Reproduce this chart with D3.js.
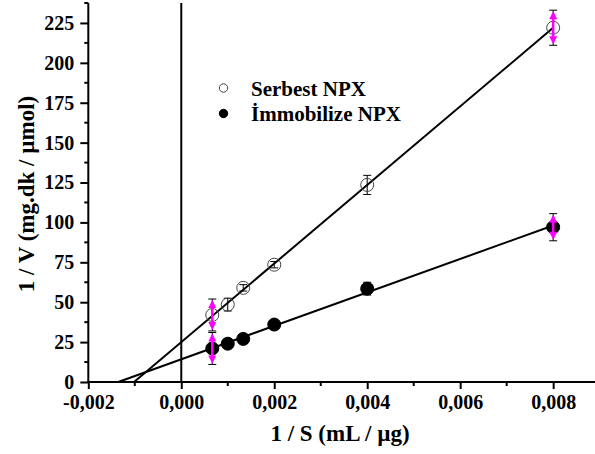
<!DOCTYPE html>
<html>
<head>
<meta charset="utf-8">
<script src="https://cdn.jsdelivr.net/npm/d3@7"></script>
<style>
  html, body { margin: 0; padding: 0; background: #fff; }
  svg { display: block; }
  text { font-family: "Liberation Serif", "Times New Roman", serif; font-weight: bold; fill: #000; }
</style>
</head>
<body>
<svg id="chart" width="595" height="454"></svg>
<script>
// Lineweaver-Burk data: 1/S (mL/µg) against 1/V (mg.dk/µmol)
const invS = [0.000667, 0.001, 0.001333, 0.002, 0.004, 0.008];
const serbestInvV = [42, 48.5, 59, 73.5, 123.5, 222];
const serbestErr = [10, 4, 2, 2, 6, 11];
const immobilizeInvV = [21, 24, 27, 36, 58.5, 97];
const immobilizeErr = [10, 2, 2, 2, 4, 8.5];
// 1/S values whose error bars are drawn with arrow markers
const arrowedInvS = [0.000667, 0.008];

const xTicks = [-0.002, 0.000, 0.002, 0.004, 0.006, 0.008];
const xMinorTicks = [-0.001, 0.001, 0.003, 0.005, 0.007];
const yTicks = [0, 25, 50, 75, 100, 125, 150, 175, 200, 225];
const yMinorTicks = [12.5, 37.5, 62.5, 87.5, 112.5, 137.5, 162.5, 187.5, 212.5, 237.5];

const seriesNames = ["Serbest NPX", "İmmobilize NPX"];

const svg = d3.select("#chart");
const x = d3.scaleLinear().domain([-0.002, 0.0089]).range([88.3, 595]);
const y = d3.scaleLinear().domain([0, 237.5]).range([382, 3]);

const locale = d3.formatLocale({ decimal: ",", thousands: ".", grouping: [3], currency: ["", ""], minus: "-" });
const fmtX = locale.format(".3f");

// least-squares fit, drawn from the x-intercept to the last point
function fit(xs, ys) {
  const mx = d3.mean(xs), my = d3.mean(ys);
  let sxy = 0, sxx = 0;
  xs.forEach((v, i) => { sxy += (v - mx) * (ys[i] - my); sxx += (v - mx) * (v - mx); });
  const b = sxy / sxx, a = my - b * mx;
  return { a, b, x0: -a / b };
}

const series = [
  { name: seriesNames[0], ys: serbestInvV, err: serbestErr, filled: false },
  { name: seriesNames[1], ys: immobilizeInvV, err: immobilizeErr, filled: true }
];

// axes
const gx = svg.append("g").attr("transform", `translate(0,${y(0)})`);
gx.call(d3.axisBottom(x).tickValues(xTicks).tickFormat(fmtX).tickSize(7).tickSizeOuter(0));
gx.select(".domain").remove();
gx.append("line").attr("x1", x.range()[0] - 1).attr("x2", x.range()[1]).attr("stroke", "#000").attr("stroke-width", 2);
gx.selectAll(".tick line").attr("stroke", "#000").attr("stroke-width", 2);
gx.selectAll(".tick text").attr("font-size", 20).attr("y", 13).attr("dy", "0.71em").style("font-family", "Liberation Serif").style("font-weight", "bold");
gx.selectAll(".minor").data(xMinorTicks).enter().append("line")
  .attr("x1", d => x(d)).attr("x2", d => x(d)).attr("y1", 0).attr("y2", 4)
  .attr("stroke", "#000").attr("stroke-width", 2);

const gy = svg.append("g").attr("transform", `translate(${x(-0.002)},0)`);
gy.call(d3.axisLeft(y).tickValues(yTicks).tickSize(8).tickSizeOuter(0));
gy.select(".domain").remove();
gy.append("line").attr("y1", y.range()[0] + 1).attr("y2", y.range()[1]).attr("stroke", "#000").attr("stroke-width", 2);
gy.selectAll(".tick line").attr("stroke", "#000").attr("stroke-width", 2);
gy.selectAll(".tick text").attr("font-size", 20).attr("x", -14).style("font-family", "Liberation Serif").style("font-weight", "bold");
gy.selectAll(".minor").data(yMinorTicks).enter().append("line")
  .attr("y1", d => y(d)).attr("y2", d => y(d)).attr("x1", 0).attr("x2", -4)
  .attr("stroke", "#000").attr("stroke-width", 2);

// vertical line at 1/S = 0
svg.append("line").attr("x1", x(0)).attr("x2", x(0)).attr("y1", y(0)).attr("y2", y.range()[1])
  .attr("stroke", "#000").attr("stroke-width", 2);

// axis titles
svg.append("text").attr("x", 340).attr("y", 441).attr("text-anchor", "middle")
  .attr("font-size", 23).text("1 / S (mL / µg)");
svg.append("text").attr("transform", "translate(33.5,194) rotate(-90)").attr("text-anchor", "middle")
  .attr("font-size", 23).text("1 / V (mg.dk / µmol)");

// error bars
series.forEach(s => {
  const g = svg.append("g");
  invS.forEach((xv, i) => {
    const cx = x(xv), top = y(s.ys[i] + s.err[i]), bot = y(s.ys[i] - s.err[i]);
    g.append("line").attr("x1", cx).attr("x2", cx).attr("y1", top).attr("y2", bot).attr("stroke", "#000").attr("stroke-width", 1);
    [top, bot].forEach(yy => g.append("line").attr("x1", cx - 4).attr("x2", cx + 4).attr("y1", yy).attr("y2", yy).attr("stroke", "#000").attr("stroke-width", 1));
  });
});

// fitted lines
series.forEach(s => {
  const f = fit(invS, s.ys);
  const xEnd = d3.max(invS);
  svg.append("line")
    .attr("x1", x(f.x0)).attr("y1", y(0))
    .attr("x2", x(xEnd)).attr("y2", y(f.a + f.b * xEnd))
    .attr("stroke", "#000").attr("stroke-width", 2);
});

// points
series.forEach(s => {
  svg.append("g").selectAll("circle").data(invS).enter().append("circle")
    .attr("cx", d => x(d)).attr("cy", (d, i) => y(s.ys[i])).attr("r", 6.5)
    .attr("fill", s.filled ? "#000" : "none")
    .attr("stroke", s.filled ? "#000" : "#444").attr("stroke-width", 1);
});

// arrow-marked error bars
series.forEach(s => {
  invS.forEach((xv, i) => {
    if (!arrowedInvS.includes(xv)) return;
    const cx = x(xv), cy = y(s.ys[i]);
    const top = y(s.ys[i] + s.err[i]), bot = y(s.ys[i] - s.err[i]);
    const g = svg.append("g").attr("fill", "#ff00ff").attr("stroke", "none");
    g.append("rect").attr("x", cx - 1.25).attr("y", top + 3).attr("width", 2.5).attr("height", bot - top - 6);
    g.append("path").attr("d", `M${cx},${top + 1} L${cx - 4},${top + 9} L${cx + 4},${top + 9} Z`);
    g.append("path").attr("d", `M${cx},${bot - 1} L${cx - 4},${bot - 9} L${cx + 4},${bot - 9} Z`);
  });
});

// legend
const legend = svg.append("g");
series.forEach((s, i) => {
  const ly = 88 + i * 25.5;
  legend.append("circle").attr("cx", 223.5).attr("cy", ly).attr("r", 4.2)
    .attr("fill", s.filled ? "#000" : "#fff").attr("stroke", s.filled ? "#000" : "#444").attr("stroke-width", 1);
  legend.append("text").attr("x", 251).attr("y", ly + 7.5).attr("font-size", 21).text(s.name);
});
</script>
</body>
</html>
